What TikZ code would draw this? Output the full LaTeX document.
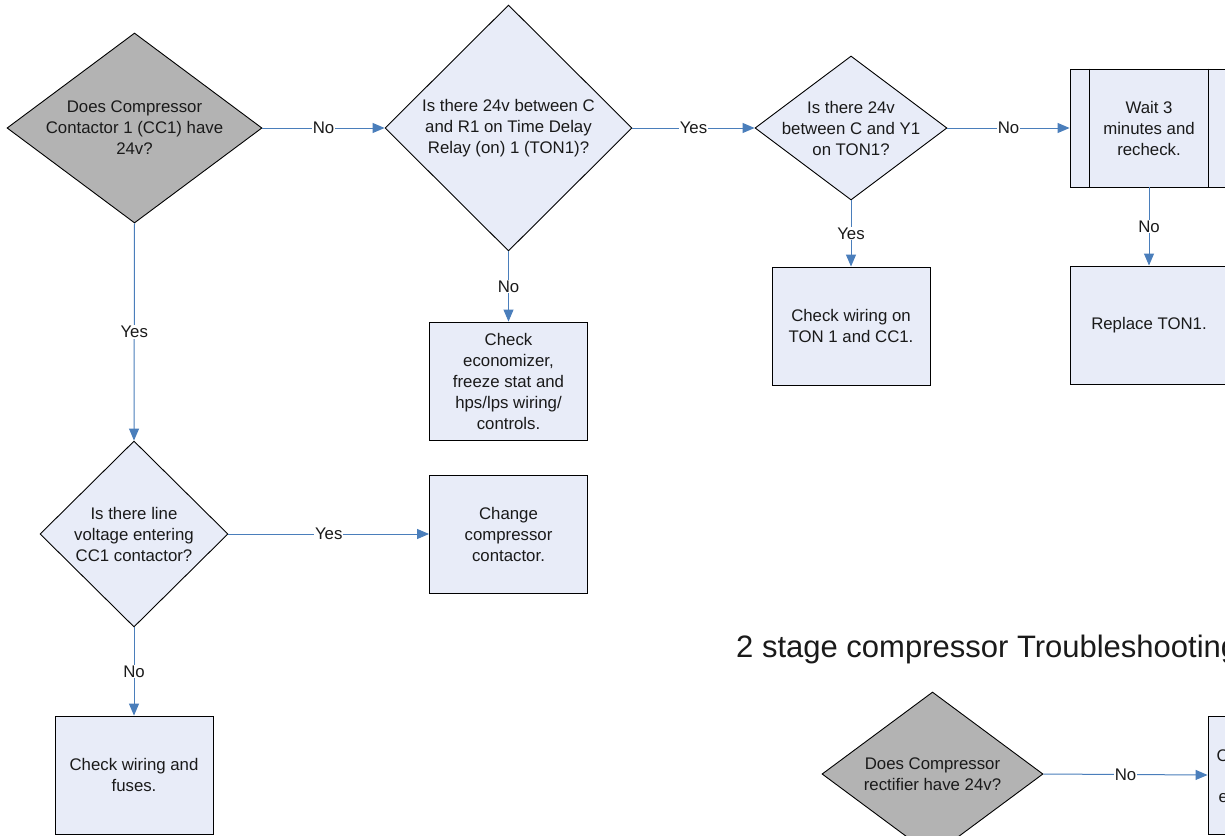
\documentclass[tikz,border=0pt]{standalone}
\usepackage{fontspec}
\setmainfont{Liberation Sans}
\usetikzlibrary{shapes.geometric,arrows.meta}
\definecolor{boxfill}{HTML}{E8ECF8}
\definecolor{grayfill}{HTML}{B3B3B3}
\definecolor{conn}{HTML}{4A7EBB}
\definecolor{txt}{HTML}{1A1A1A}
\tikzset{
  base/.style={draw=black, line width=0.9pt, inner sep=0pt},
  dia/.style={base, shape=diamond, fill=boxfill},
  graydia/.style={base, shape=diamond, fill=grayfill},
  procbox/.style={base, rectangle, fill=boxfill, minimum width=158pt, minimum height=118pt},
  lbl/.style={text=txt, align=center, font=\fontsize{16.8}{21}\selectfont},
  conlbl/.style={fill=white, inner sep=1pt, text=txt, font=\fontsize{16.8}{19}\selectfont},
  flow/.style={draw=conn, line width=1pt, -{Triangle[length=12pt,width=10pt]}}
}
\begin{document}
\begin{tikzpicture}[x=1pt,y=-1pt]
\path[use as bounding box, clip] (0,0) rectangle (1225,835);
\fill[white] (0,0) rectangle (1225,835);
% diamonds
\node[graydia, minimum width=255pt, minimum height=190pt] (d1) at (134.5,128) {};
\node[lbl] at (d1.center) {Does Compressor\\Contactor 1 (CC1) have\\24v?};
\node[dia, minimum width=247pt, minimum height=246pt] (d2) at (508.5,128) {};
\node[lbl] at (d2.center) {Is there 24v between C\\and R1 on Time Delay\\Relay (on) 1 (TON1)?};
\node[dia, minimum width=192pt, minimum height=144pt] (d3) at (851,128) {};
\node[lbl] at (d3.center) {Is there 24v\\between C and Y1\\on TON1?};
\node[dia, minimum width=188pt, minimum height=186pt] (d4) at (134,534) {};
\node[lbl] at (d4.center) {Is there line\\voltage entering\\CC1 contactor?};
\node[graydia, minimum width=221pt, minimum height=164pt] (d5) at (932.5,774) {};
\node[lbl] at (d5.center) {Does Compressor\\rectifier have 24v?};
% boxes
\node[procbox] (wait) at (1149,128) {};
\draw[line width=0.9pt] ([xshift=20pt]wait.north west) -- ([xshift=20pt]wait.south west);
\draw[line width=0.9pt] ([xshift=-20pt]wait.north east) -- ([xshift=-20pt]wait.south east);
\node[lbl] at (wait.center) {Wait 3\\minutes and\\recheck.};
\node[procbox] (repl) at (1149,325) {};
\node[lbl] at (repl.center) {Replace TON1.};
\node[procbox] (chkton) at (851,326) {};
\node[lbl] at (chkton.center) {Check wiring on\\TON 1 and CC1.};
\node[procbox] (econ) at (508.5,381) {};
\node[lbl] at (econ.center) {Check\\economizer,\\freeze stat and\\hps/lps wiring/\\controls.};
\node[procbox] (chg) at (508.5,534) {};
\node[lbl] at (chg.center) {Change\\compressor\\contactor.};
\node[procbox] (fuse) at (134,775) {};
\node[lbl] at (fuse.center) {Check wiring and\\fuses.};
\node[procbox] (br) at (1287,775) {};
\node[lbl, anchor=base west] (brc) at (1213,761) {C};
\node[lbl, anchor=base west] (bre) at (1215,802) {e};
% title
\node[anchor=base west, inner sep=0pt, text=txt, font=\fontsize{31}{36}\selectfont] (title) at (736,657) {2 stage compressor Troubleshooting};
% connectors
\draw[flow] (d1.east) -- node[conlbl]{No} (d2.west);
\draw[flow] (d2.east) -- node[conlbl]{Yes} (d3.west);
\draw[flow] (d3.east) -- node[conlbl]{No} (wait.west);
\draw[flow] (d1.south) -- node[conlbl]{Yes} (d4.north);
\draw[flow] (d2.south) -- node[conlbl]{No} (econ.north);
\draw[flow] (d3.south) -- node[conlbl]{Yes} (chkton.north);
\draw[flow] (wait.south) -- node[conlbl]{No} (repl.north);
\draw[flow] (d4.east) -- node[conlbl]{Yes} (chg.west);
\draw[flow] (d4.south) -- node[conlbl]{No} (fuse.north);
\draw[flow] (d5.east) -- node[conlbl]{No} (br.west);
\end{tikzpicture}
\end{document}
